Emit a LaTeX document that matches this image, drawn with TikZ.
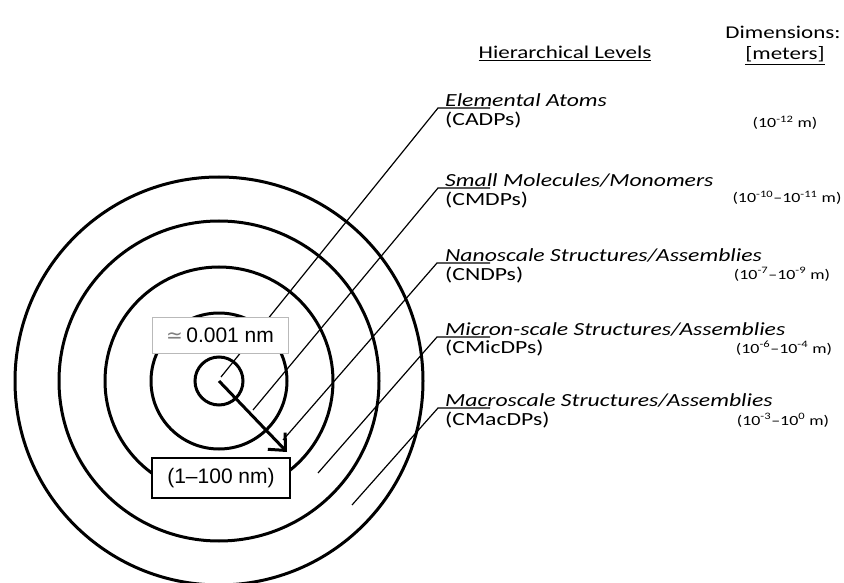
\documentclass[tikz,border=0pt]{standalone}
\usepackage{fontspec}
\setmainfont{Carlito}
\newfontfamily\arialf{Liberation Sans}
\newfontfamily\dejavuf{DejaVu Sans}
\usetikzlibrary{arrows.meta}
\newcommand{\wx}[1]{\scalebox{1.28}[1]{#1}}
\newcommand{\sx}[1]{\textsuperscript{#1}}
\begin{document}
\begin{tikzpicture}[x=1pt,y=-1pt,
  ring/.style={line width=3pt},
  leader/.style={line width=1.2pt},
  ttl/.style={anchor=base west,inner sep=0pt,font=\fontsize{18.5}{20}\selectfont\itshape},
  code/.style={anchor=base west,inner sep=0pt,font=\fontsize{18.5}{20}\selectfont},
  dimtxt/.style={anchor=base,inner sep=0pt,font=\fontsize{14}{16}\selectfont},
  hdr/.style={anchor=base,inner sep=0pt,font=\fontsize{18}{20}\selectfont},
  valbox/.style={fill=white,inner sep=0pt,font=\arialf\fontsize{21}{24}\selectfont}]
\useasboundingbox (0,0) rectangle (844,583);
\coordinate (c) at (219,381);
% rings
\draw[ring] (c) circle[radius=24pt];
\draw[ring] (c) circle[radius=68pt];
\draw[ring] (c) circle[radius=114pt];
\draw[ring] (c) circle[radius=160pt];
\draw[ring] (c) circle[radius=204pt];
% leader coordinates
\coordinate (s1) at (221,377);
\coordinate (s2) at (253,410);
\coordinate (s3) at (283,440);
\coordinate (s4) at (318,473);
\coordinate (s5) at (352,505);
\coordinate (k1) at (438,108); \coordinate (e1) at (490,108);
\coordinate (k2) at (438,188); \coordinate (e2) at (490,188);
\coordinate (k3) at (437,263); \coordinate (e3) at (490,263);
\coordinate (k4) at (437,337); \coordinate (e4) at (490,337);
\coordinate (k5) at (438,408); \coordinate (e5) at (490,408);
\draw[leader] (s1) -- (k1) -- (e1);
\draw[leader] (s2) -- (k2) -- (e2);
\draw[leader] (s3) -- (k3) -- (e3);
\draw[leader] (s4) -- (k4) -- (e4);
\draw[leader] (s5) -- (k5) -- (e5);
% arrow
\coordinate (tip) at (287,452);
\draw[line width=3pt,-{Straight Barb[length=13pt,width=24pt,line width=3pt]}] (c) -- (tip);
% value boxes
\node[valbox,draw=gray!55,line width=0.8pt,minimum width=136pt,minimum height=36pt] (v1) at (220,335)
  {{\dejavuf\color{gray}\fontsize{20}{22}\selectfont ≃}\,0.001 nm};
\node[valbox,draw=black,line width=1.5pt,minimum width=138pt,minimum height=40pt] (v2) at (221,478)
  {(1–100 nm)};
% headers
\node[hdr] (h1) at (565,59) {\wx{\underline{Hierarchical\ Levels}}};
\node[hdr] (h2) at (783,39) {\wx{Dimensions:}};
\node[hdr] (h3) at (785,60) {\wx{\underline{[meters]}}};
% labels
\node[ttl] (t1) at (445,107) {\wx{Elemental Atoms}};
\node[code] (c1) at (445,126) {\wx{(CADPs)}};
\node[dimtxt] (d1) at (785,128) {\wx{(10\sx{-12} m)}};
\node[ttl] (t2) at (445,186) {\wx{Small Molecules/Monomers}};
\node[code] (c2) at (445,205) {\wx{(CMDPs)}};
\node[dimtxt] (d2) at (787,203) {\wx{(10\sx{-10}–10\sx{-11} m)}};
\node[ttl] (t3) at (445,261) {\wx{Nanoscale Structures/Assemblies}};
\node[code] (c3) at (445,280) {\wx{(CNDPs)}};
\node[dimtxt] (d3) at (782,279) {\wx{(10\sx{-7}–10\sx{-9} m)}};
\node[ttl] (t4) at (445,335) {\wx{Micron-scale Structures/Assemblies}};
\node[code] (c4) at (445,353) {\wx{(CMicDPs)}};
\node[dimtxt] (d4) at (784,353) {\wx{(10\sx{-6}–10\sx{-4} m)}};
\node[ttl] (t5) at (445,406) {\wx{Macroscale Structures/Assemblies}};
\node[code] (c5) at (445,425) {\wx{(CMacDPs)}};
\node[dimtxt] (d5) at (783,425) {\wx{(10\sx{-3}–10\sx{0} m)}};
\end{tikzpicture}
\end{document}
